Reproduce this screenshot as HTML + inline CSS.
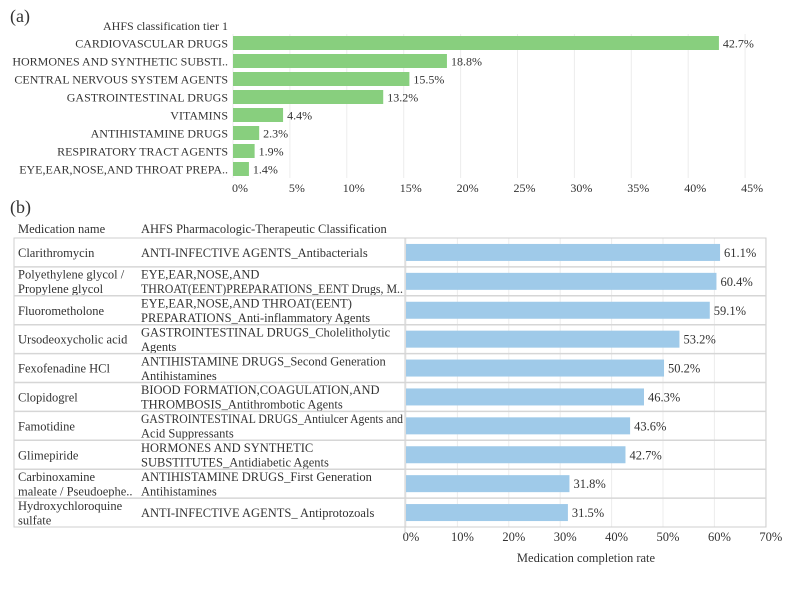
<!DOCTYPE html>
<html><head><meta charset="utf-8"><style>
body{margin:0;background:#fff;font-family:"Liberation Serif",serif;}
svg text{font-family:"Liberation Serif",serif;fill:#333;}
</style></head><body>
<svg width="800" height="589" id="svg">
<text x="10" y="22" font-size="18">(a)</text>
<text x="228" y="30" font-size="12" text-anchor="end">AHFS classification tier 1</text>
<text x="10" y="213" font-size="18">(b)</text>
<text x="18" y="233" font-size="12.5">Medication name</text>
<text x="141" y="233" font-size="12.5">AHFS Pharmacologic-Therapeutic Classification</text>
<text x="586" y="562" font-size="12.5" text-anchor="middle">Medication completion rate</text>
<g id="ga"></g><g id="gb"></g>
</svg>
<script>
const catsA=["CARDIOVASCULAR DRUGS","HORMONES AND SYNTHETIC SUBSTI..","CENTRAL NERVOUS SYSTEM AGENTS","GASTROINTESTINAL DRUGS","VITAMINS","ANTIHISTAMINE DRUGS","RESPIRATORY TRACT AGENTS","EYE,EAR,NOSE,AND THROAT PREPA.."];
const valsA=[42.7,18.8,15.5,13.2,4.4,2.3,1.9,1.4];
const ticksA=[0,5,10,15,20,25,30,35,40,45];
const medsB=[["Clarithromycin"],["Polyethylene glycol /","Propylene glycol"],["Fluorometholone"],["Ursodeoxycholic acid"],["Fexofenadine HCl"],["Clopidogrel"],["Famotidine"],["Glimepiride"],["Carbinoxamine","maleate / Pseudoephe.."],["Hydroxychloroquine","sulfate"]];
const classB=[["ANTI-INFECTIVE AGENTS_Antibacterials"],["EYE,EAR,NOSE,AND","THROAT(EENT)PREPARATIONS_EENT Drugs, M.."],["EYE,EAR,NOSE,AND THROAT(EENT)","PREPARATIONS_Anti-inflammatory Agents"],["GASTROINTESTINAL DRUGS_Cholelitholytic","Agents"],["ANTIHISTAMINE DRUGS_Second Generation","Antihistamines"],["BIOOD FORMATION,COAGULATION,AND","THROMBOSIS_Antithrombotic Agents"],["GASTROINTESTINAL DRUGS_Antiulcer Agents and","Acid Suppressants"],["HORMONES AND SYNTHETIC","SUBSTITUTES_Antidiabetic Agents"],["ANTIHISTAMINE DRUGS_First Generation","Antihistamines"],["ANTI-INFECTIVE AGENTS_ Antiprotozoals"]];
const valsB=[61.1,60.4,59.1,53.2,50.2,46.3,43.6,42.7,31.8,31.5];
const ticksB=[0,10,20,30,40,50,60,70];
const NS="http://www.w3.org/2000/svg";
function mk(p,t,a,txt){const e=document.createElementNS(NS,t);for(const k in a)e.setAttribute(k,a[k]);if(txt!==undefined)e.textContent=txt;p.appendChild(e);return e;}
// chart A
const ga=document.getElementById('ga');
const xA=v=>233+v*11.38, yA=i=>43+i*18;
ticksA.forEach(t=>{const l=mk(ga,'line',{x1:xA(t),x2:xA(t),y1:34,y2:178,stroke:'#ececec'});


const tx=mk(ga,'text',{x:xA(t)+7,y:192,'font-size':12,'text-anchor':'middle'},t+'%');

});
catsA.forEach((c,i)=>{const lb=mk(ga,'text',{x:228,y:yA(i)+4.5,'font-size':12,'text-anchor':'end'},c);


const b=mk(ga,'rect',{x:xA(0),y:yA(i)-7,width:xA(valsA[i])-xA(0),height:14,fill:'#88cf7e'});


const v=mk(ga,'text',{x:xA(valsA[i])+4,y:yA(i)+4.5,'font-size':12},valsA[i].toFixed(1)+'%');

});
// chart B
const gb=document.getElementById('gb');
const xB=v=>406+v*5.14, rowH=28.9, topY=238, yB=i=>topY+i*rowH;
ticksB.forEach(t=>{const l=mk(gb,'line',{x1:xB(t),x2:xB(t),y1:topY,y2:topY+10*rowH,stroke:'#ececec'});


const tx=mk(gb,'text',{x:xB(t)+5,y:541,'font-size':12.5,'text-anchor':'middle'},t+'%');

});
mk(gb,'rect',{x:14,y:topY,width:752,height:10*rowH,fill:'none',stroke:'#cfcfcf'});
mk(gb,'line',{x1:405,x2:405,y1:topY,y2:topY+10*rowH+8,stroke:'#cfcfcf'});
valsB.forEach((v,i)=>{const y=yB(i);
if(i>0)mk(gb,'line',{x1:14,x2:766,y1:y,y2:y,stroke:'#d6d6d6','stroke-width':1.5});
const c=y+rowH/2;
[[medsB[i],18,'med-name'],[classB[i],141,'classification']].forEach(([lines,x,nm])=>{
lines.forEach((s,k)=>{const t=mk(gb,'text',{x:x,y:c+4.5+(k-(lines.length-1)/2)*14.5,'font-size':12.5},s);


if(t.getComputedTextLength()>262){t.setAttribute('textLength',262);t.setAttribute('lengthAdjust','spacingAndGlyphs');}});});
const b=mk(gb,'rect',{x:xB(0),y:c-8.5,width:xB(v)-xB(0),height:17,fill:'#9fcae9'});


const vt=mk(gb,'text',{x:xB(v)+4,y:c+4.5,'font-size':12.5},v.toFixed(1)+'%');

});
</script>
</body></html>
